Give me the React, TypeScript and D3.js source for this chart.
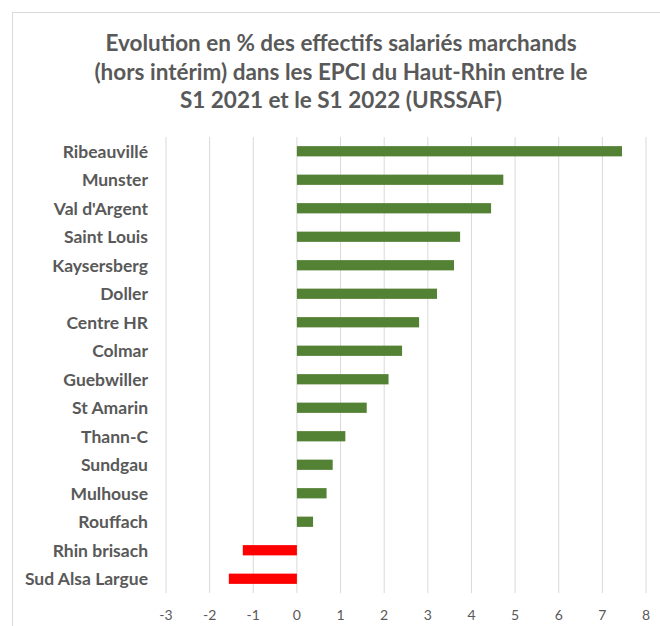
import React from "react";
import * as d3 from "d3";

const categories = [
  "Ribeauvillé", "Munster", "Val d'Argent", "Saint Louis", "Kaysersberg", "Doller",
  "Centre HR", "Colmar", "Guebwiller", "St Amarin", "Thann-C", "Sundgau",
  "Mulhouse", "Rouffach", "Rhin brisach", "Sud Alsa Largue",
];
const values = [7.45, 4.73, 4.45, 3.74, 3.6, 3.21, 2.8, 2.41, 2.1, 1.6, 1.11, 0.82, 0.68, 0.37, -1.24, -1.56];
const xTicks = [-3, -2, -1, 0, 1, 2, 3, 4, 5, 6, 7, 8];
const titleLines = [
  "Evolution en % des effectifs salariés marchands",
  "(hors intérim) dans les EPCI du Haut-Rhin entre le",
  "S1 2021 et le S1 2022 (URSSAF)",
];

const W = 660, H = 626;
const FONT = "Lato, 'Open Sans', sans-serif";
const GREY = "#595959";

export default function App() {
  const x = d3.scaleLinear().domain([-3, 8]).range([166, 646]);
  const y = d3.scaleBand<string>().domain(categories).range([137, 593]).padding(0);
  const bw = y.bandwidth();
  const barH = bw * 0.36;
  return (
    <svg width={W} height={H} style={{ position: "absolute", left: 0, top: 0, background: "#fff" }}>
      <rect x={12.5} y={12.5} width={W} height={H} fill="#fff" stroke="#d9d9d9" />
      {titleLines.map((t, i) => (
        <text key={i} x={341} y={51 + i * 28.5} textAnchor="middle" fontFamily={FONT} fontWeight="bold" fontSize={22.5} fill={GREY}>
          {t}
        </text>
      ))}
      {xTicks.map((t) => (
        <g key={t}>
          <line x1={x(t)} x2={x(t)} y1={137} y2={593} stroke="#d9d9d9" strokeWidth={1} />
          <text x={x(t)} y={620} textAnchor="middle" fontFamily={FONT} fontSize={14} fill={GREY}>
            {t}
          </text>
        </g>
      ))}
      {categories.map((c, i) => {
        const v = values[i];
        const yc = (y(c) as number) + bw / 2;
        return (
          <g key={c}>
            <rect
              x={x(Math.min(0, v))}
              y={yc - barH / 2}
              width={Math.abs(x(v) - x(0))}
              height={barH}
              fill={v >= 0 ? "#548235" : "#ff0000"}
            />
            <text x={148} y={yc} dy="0.36em" textAnchor="end" fontFamily={FONT} fontWeight="bold" fontSize={17.5} fill={GREY}>
              {c}
            </text>
          </g>
        );
      })}
    </svg>
  );
}
